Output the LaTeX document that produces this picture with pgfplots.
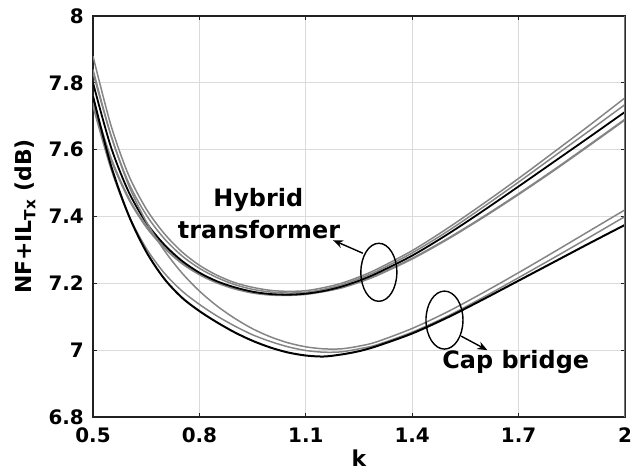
\documentclass[border=0pt]{standalone}
\usepackage{fontspec}
\setmainfont{DejaVu Sans}
\usepackage{pgfplots}
\pgfplotsset{compat=1.18}
\usetikzlibrary{arrows.meta}

\definecolor{gridgray}{gray}{0.86}
\definecolor{axisdark}{gray}{0.13}
\definecolor{curvegray}{gray}{0.52}
\definecolor{edgegray}{gray}{0.45}

\newcommand{\tickfont}{\fontsize{20}{24}\selectfont\bfseries}
\newcommand{\labelfont}{\fontsize{22}{26}\selectfont\bfseries}
\newcommand{\notefont}{\fontsize{24}{28}\selectfont\bfseries}

\begin{document}
\begin{tikzpicture}
\path[use as bounding box] (-93bp,-55bp) rectangle (548bp,417bp);
\begin{axis}[
  at={(0,0)}, anchor=south west,
  scale only axis, width=532bp, height=401bp,
  xmin=0.5, xmax=2, ymin=6.8, ymax=8,
  xtick={0.5,0.8,1.1,1.4,1.7,2},
  ytick={6.8,7,7.2,7.4,7.6,7.8,8},
  grid=major,
  major grid style={gridgray, line width=1.2bp},
  tick align=inside,
  major tick length=4bp,
  tick style={axisdark, line width=1.2bp},
  axis line style={axisdark, line width=1.8bp},
  /pgf/number format/assume math mode=true,
  xticklabel style={font=\tickfont, anchor=base, inner sep=0pt, yshift=-25bp},
  yticklabel style={font=\tickfont, anchor=east, inner sep=0pt, xshift=-9bp},
  xlabel={k},
  ylabel={NF+IL\textsubscript{Tx} (dB)},
  xlabel style={font=\labelfont, inner sep=0pt, anchor=center,
    at={([yshift=-41bp]axis description cs:0.5,0)}},
  ylabel style={font=\labelfont, inner sep=0pt, anchor=center,
    at={([xshift=-68bp]axis description cs:0,0.5)}},
  clip=true,
  every axis plot/.append style={smooth, tension=0.5},
]
% Hybrid transformer: spread of the gray runs around the nominal black curve
\addplot[curvegray, line width=1.5bp] coordinates {
 (0.5,7.88) (0.55,7.675) (0.6,7.525) (0.65,7.423) (0.7,7.35) (0.75,7.295)
 (0.8,7.254) (0.85,7.224) (0.9,7.202) (0.95,7.188) (1.0,7.179) (1.05,7.176)
 (1.1,7.178) (1.15,7.187) (1.2,7.2) (1.25,7.219) (1.3,7.242) (1.4,7.298)
 (1.5,7.365) (1.6,7.438) (1.7,7.514) (1.8,7.593) (1.9,7.673) (2.0,7.755)};
\addplot[curvegray, line width=1.5bp] coordinates {
 (0.5,7.84) (0.55,7.645) (0.6,7.502) (0.65,7.405) (0.7,7.335) (0.75,7.283)
 (0.8,7.245) (0.85,7.217) (0.9,7.196) (0.95,7.182) (1.0,7.174) (1.05,7.171)
 (1.1,7.173) (1.15,7.182) (1.2,7.195) (1.25,7.214) (1.3,7.236) (1.4,7.291)
 (1.5,7.356) (1.6,7.428) (1.7,7.503) (1.8,7.58) (1.9,7.657) (2.0,7.735)};
\addplot[curvegray, line width=2.2bp] coordinates {
 (0.5,7.74) (0.55,7.575) (0.6,7.455) (0.65,7.37) (0.7,7.308) (0.75,7.261)
 (0.8,7.227) (0.85,7.202) (0.9,7.184) (0.95,7.172) (1.0,7.166) (1.05,7.165)
 (1.1,7.168) (1.15,7.176) (1.2,7.187) (1.25,7.204) (1.3,7.224) (1.4,7.274)
 (1.5,7.333) (1.6,7.398) (1.7,7.467) (1.8,7.539) (1.9,7.614) (2.0,7.69)};
\addplot[black, line width=1.8bp] coordinates {
 (0.5,7.80) (0.55,7.61) (0.6,7.475) (0.65,7.382) (0.7,7.317) (0.75,7.268)
 (0.8,7.232) (0.85,7.206) (0.9,7.188) (0.95,7.175) (1.0,7.168) (1.05,7.166)
 (1.1,7.169) (1.15,7.177) (1.2,7.19) (1.25,7.208) (1.3,7.23) (1.4,7.283)
 (1.5,7.347) (1.6,7.417) (1.7,7.49) (1.8,7.564) (1.9,7.638) (2.0,7.713)};
% Cap bridge
\addplot[curvegray, line width=1.5bp] coordinates {
 (0.5,7.83) (0.55,7.645) (0.6,7.495) (0.65,7.385) (0.7,7.30) (0.75,7.232)
 (0.8,7.177) (0.85,7.132) (0.9,7.095) (0.95,7.064) (1.0,7.04) (1.05,7.022)
 (1.1,7.01) (1.15,7.004) (1.2,7.004) (1.25,7.012) (1.3,7.025) (1.4,7.065)
 (1.5,7.115) (1.6,7.172) (1.7,7.232) (1.8,7.294) (1.9,7.357) (2.0,7.42)};
\addplot[curvegray, line width=1.5bp] coordinates {
 (0.5,7.73) (0.55,7.545) (0.6,7.405) (0.65,7.305) (0.7,7.232) (0.75,7.178)
 (0.8,7.137) (0.85,7.102) (0.9,7.072) (0.95,7.046) (1.0,7.026) (1.05,7.01)
 (1.1,6.999) (1.15,6.994) (1.2,6.995) (1.25,7.004) (1.3,7.016) (1.4,7.054)
 (1.5,7.102) (1.6,7.158) (1.7,7.217) (1.8,7.277) (1.9,7.338) (2.0,7.40)};
\addplot[black, line width=2bp] coordinates {
 (0.5,7.76) (0.55,7.555) (0.6,7.405) (0.65,7.295) (0.7,7.215) (0.75,7.158)
 (0.8,7.117) (0.85,7.083) (0.9,7.053) (0.95,7.028) (1.0,7.008) (1.05,6.993)
 (1.1,6.984) (1.15,6.981) (1.2,6.987) (1.25,6.997) (1.3,7.012) (1.4,7.05)
 (1.5,7.098) (1.6,7.152) (1.7,7.208) (1.8,7.264) (1.9,7.32) (2.0,7.375)};

% lighter right-hand frame edge
\draw[edgegray, line width=1.2bp] (rel axis cs:1,0) -- (rel axis cs:1,1);

% group markers and labels
\draw[black, line width=1.4bp] (axis cs:1.306,7.233) ellipse [x radius=18bp, y radius=29bp];
\draw[black, line width=1.4bp] (axis cs:1.491,7.09) ellipse [x radius=18.5bp, y radius=29bp];
\draw[black, line width=1.4bp, -{Stealth[length=10bp,width=8bp]}]
  (axis cs:1.261,7.29) -- (axis cs:1.177,7.329);
\draw[black, line width=1.4bp, -{Stealth[length=10bp,width=8bp]}]
  (axis cs:1.538,7.042) -- (axis cs:1.612,7.0);
\node[font=\notefont, inner sep=0pt] at (axis cs:0.966,7.449) {Hybrid};
\node[font=\notefont, inner sep=0pt] at (axis cs:0.968,7.362) {transformer};
\node[font=\notefont, inner sep=0pt] at (axis cs:1.692,6.964) {Cap bridge};
\end{axis}
\end{tikzpicture}
\end{document}
